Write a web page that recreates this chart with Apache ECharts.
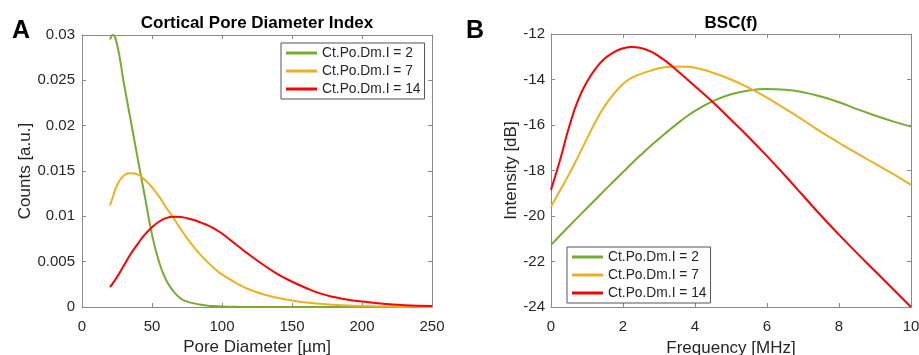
<!DOCTYPE html>
<html>
<head>
<meta charset="utf-8">
<script src="https://cdn.jsdelivr.net/npm/echarts@6/dist/echarts.min.js"></script>
<style>
html,body{margin:0;padding:0;background:#fff;}
#chart{width:919px;height:355px;}
</style>
</head>
<body>
<div id="chart"></div>
<script>
// ---------- Panel A: Cortical Pore Diameter Index ----------
const poreDiameter = [20, 22, 25, 30, 35, 40, 45, 50, 55, 60, 65, 70, 75, 80, 85, 90, 95, 100, 110, 120, 130, 140, 150, 160, 170, 180, 190, 200, 215, 230, 250];
const countsIdx2  = [0.0295, 0.0300, 0.0290, 0.0246, 0.0204, 0.0162, 0.0121, 0.0080, 0.0050, 0.0030, 0.0018, 0.0010, 0.0006, 0.0004, 0.00025, 0.00015, 0.0001, 0.00006, 0.00002, 0, 0, 0, 0, 0, 0, 0, 0, 0, 0, 0, 0];
const countsIdx7  = [0.0112, 0.0121, 0.0134, 0.0145, 0.01475, 0.0146, 0.0140, 0.0132, 0.0122, 0.0110, 0.0099, 0.0087, 0.0076, 0.0066, 0.0057, 0.0049, 0.0042, 0.0036, 0.00265, 0.0019, 0.00138, 0.0010, 0.00072, 0.0005, 0.00035, 0.00024, 0.00016, 0.00011, 0.00006, 0.00003, 0.00001];
const countsIdx14 = [0.0022, 0.0026, 0.0033, 0.0046, 0.0059, 0.0070, 0.0080, 0.0088, 0.0094, 0.0098, 0.00995, 0.00993, 0.0098, 0.0096, 0.0093, 0.0090, 0.0086, 0.0081, 0.0069, 0.0057, 0.0046, 0.0036, 0.0028, 0.0021, 0.0015, 0.0011, 0.0008, 0.0006, 0.00035, 0.0002, 0.0001];
const xTicksA = [0, 50, 100, 150, 200, 250];
const yTicksA = [0, 0.005, 0.01, 0.015, 0.02, 0.025, 0.03];

// ---------- Panel B: BSC(f) ----------
const frequency = [0, 0.25, 0.5, 0.75, 1.0, 1.25, 1.5, 1.75, 2.0, 2.25, 2.5, 2.75, 3.0, 3.25, 3.5, 3.75, 4.0, 4.5, 5.0, 5.5, 6.0, 6.5, 7.0, 7.5, 8.0, 8.5, 9.0, 9.5, 10];
const bscIdx2  = [-21.27, -20.86, -20.45, -20.05, -19.65, -19.25, -18.85, -18.46, -18.07, -17.68, -17.31, -16.95, -16.60, -16.27, -15.95, -15.65, -15.38, -14.95, -14.65, -14.48, -14.42, -14.45, -14.56, -14.75, -15.00, -15.30, -15.58, -15.84, -16.07];
const bscIdx7  = [-19.59, -18.88, -18.17, -17.40, -16.60, -15.82, -15.15, -14.62, -14.20, -13.92, -13.75, -13.62, -13.51, -13.45, -13.43, -13.44, -13.48, -13.70, -14.00, -14.37, -14.80, -15.28, -15.78, -16.30, -16.78, -17.25, -17.70, -18.15, -18.63];
const bscIdx14 = [-18.85, -17.55, -16.10, -14.92, -14.10, -13.50, -13.07, -12.80, -12.63, -12.57, -12.62, -12.75, -12.98, -13.27, -13.60, -13.95, -14.30, -15.00, -15.77, -16.55, -17.37, -18.22, -19.10, -19.98, -20.82, -21.63, -22.42, -23.21, -24.00];
const xTicksB = [0, 2, 4, 6, 8, 10];
const yTicksB = [-24, -22, -20, -18, -16, -14, -12];

const seriesNames = ['Ct.Po.Dm.I = 2', 'Ct.Po.Dm.I = 7', 'Ct.Po.Dm.I = 14'];
const seriesColors = ['#77AC30', '#EDB120', '#FF0000'];

const FONT = '"Liberation Sans", Arial, Helvetica, sans-serif';
const TXT = '#262626';
const LINE = '#8a8a8a';

function pairs(xs, ys) { return xs.map((x, i) => [x, ys[i]]); }

function makeAxis(gridIndex, pos, tks, showLabel, name, extra) {
  const step = tks[1] - tks[0];
  return Object.assign({
    type: 'value', gridIndex, position: pos,
    min: tks[0], max: tks[tks.length - 1], interval: step,
    axisLine: { show: true, onZero: false, lineStyle: { color: LINE, width: 1 } },
    axisTick: { show: true, inside: true, length: 4, lineStyle: { color: LINE } },
    splitLine: { show: false },
    axisLabel: { show: showLabel, color: TXT, fontSize: 15, fontFamily: FONT },
    name: name || '', nameLocation: 'middle',
    nameTextStyle: { color: TXT, fontSize: 17, fontFamily: FONT }
  }, extra || {});
}

const chart = echarts.init(document.getElementById('chart'), null, { renderer: 'canvas' });

const legendCommon = {
  orient: 'vertical', icon: 'rect', itemWidth: 31, itemHeight: 3, itemGap: 4,
  backgroundColor: '#fff', borderColor: '#555', borderWidth: 1,
  padding: [3, 4, 3, 5],
  textStyle: { color: TXT, fontSize: 13.8, fontFamily: FONT, lineHeight: 14 },
  selectedMode: false,
  data: seriesNames
};

function seriesFor(xs, ysList, xi, yi) {
  return ysList.map((ys, k) => ({
    name: seriesNames[k], type: 'line', xAxisIndex: xi, yAxisIndex: yi,
    data: pairs(xs, ys), smooth: 0.5, showSymbol: false, symbol: 'none',
    lineStyle: { color: seriesColors[k], width: 2 }, itemStyle: { color: seriesColors[k] },
    z: 3 + k
  }));
}

const yFmtA = v => String(+v.toFixed(3));
const lbl = (margin, fmt) => Object.assign({ show: true, color: TXT, fontSize: 15, fontFamily: FONT, margin }, fmt ? { formatter: fmt } : {});

chart.setOption({
  animation: false,
  backgroundColor: '#fff',
  title: [
    { text: 'Cortical Pore Diameter Index', left: 252, top: 10, textAlign: 'center',
      textStyle: { fontSize: 17, fontWeight: 'bold', color: '#000', fontFamily: FONT } },
    { text: 'BSC(f)', left: 726, top: 10, textAlign: 'center',
      textStyle: { fontSize: 17, fontWeight: 'bold', color: '#000', fontFamily: FONT } },
    { text: 'A', left: 7, top: 14, textStyle: { fontSize: 25, fontWeight: 'bold', color: '#000', fontFamily: FONT } },
    { text: 'B', left: 461, top: 14, textStyle: { fontSize: 25, fontWeight: 'bold', color: '#000', fontFamily: FONT } }
  ],
  legend: [
    Object.assign({}, legendCommon, { left: 281, top: 43 }),
    Object.assign({}, legendCommon, { left: 567, top: 247 })
  ],
  grid: [
    { left: 82, top: 35, width: 350, height: 272, containLabel: false, outerBoundsMode: 'none' },
    { left: 551, top: 34, width: 360, height: 273, containLabel: false, outerBoundsMode: 'none' }
  ],
  xAxis: [
    makeAxis(0, 'bottom', xTicksA, true, 'Pore Diameter [\u00b5m]', { nameGap: 31, axisLabel: lbl(12) }),
    makeAxis(0, 'top', xTicksA, false),
    makeAxis(1, 'bottom', xTicksB, true, 'Frequency [MHz]', { nameGap: 33, axisLabel: lbl(12) }),
    makeAxis(1, 'top', xTicksB, false)
  ],
  yAxis: [
    makeAxis(0, 'left', yTicksA, true, 'Counts [a.u.]', { nameGap: 47, axisLabel: lbl(7, yFmtA) }),
    makeAxis(0, 'right', yTicksA, false),
    makeAxis(1, 'left', yTicksB, true, 'Intensity [dB]', { nameGap: 27, axisLabel: lbl(6) }),
    makeAxis(1, 'right', yTicksB, false)
  ],
  series: [
    ...seriesFor(poreDiameter, [countsIdx2, countsIdx7, countsIdx14], 0, 0),
    ...seriesFor(frequency, [bscIdx2, bscIdx7, bscIdx14], 2, 2)
  ]
});
</script>
</body>
</html>
